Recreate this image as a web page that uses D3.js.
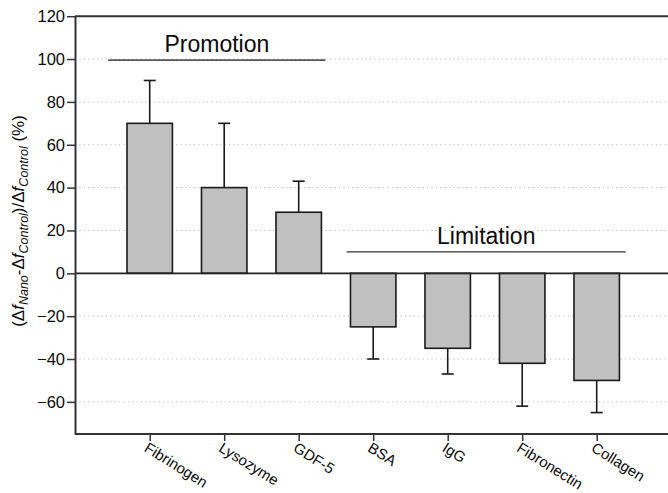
<!DOCTYPE html>
<html>
<head>
<meta charset="utf-8">
<script src="https://cdn.jsdelivr.net/npm/d3@7"></script>
<style>
  html, body { margin: 0; padding: 0; background: #fff; }
  svg { display: block; }
  text { font-family: "Liberation Sans", Arial, Helvetica, sans-serif; fill: #0a0a0a; }
</style>
</head>
<body>
<svg id="chart" width="668" height="493"></svg>
<script>
// Relative frequency change of the nano-coated surface vs. control, per protein
const categories = ["Fibrinogen", "Lysozyme", "GDF-5", "BSA", "IgG", "Fibronectin", "Collagen"];
const values     = [70, 40, 28.5, -25, -35, -42, -50];
const errors     = [20, 30, 14.5, 15, 12, 20, 15];
const yTicks     = [-60, -40, -20, 0, 20, 40, 60, 80, 100, 120];
const groupLabels = ["Promotion", "Limitation"];
const groupFrom   = ["Fibrinogen", "BSA"];
const groupTo     = ["GDF-5", "Collagen"];
const groupLevel  = [99.5, 10];

const svg = d3.select("#chart");
const W = 668;
const left = 75;

const y = d3.scaleLinear().domain([-75, 120]).range([434, 16.2]);
const x = d3.scalePoint().domain(categories).range([149.7, 596.7]);
const step = x.step();
const barW = step * 0.61;

// dotted horizontal grid
svg.append("g")
  .selectAll("line")
  .data(yTicks.filter(t => t !== 0 && t !== 120))
  .join("line")
  .attr("x1", left).attr("x2", W)
  .attr("y1", d => y(d)).attr("y2", d => y(d))
  .attr("stroke", "#b8b8b8")
  .attr("stroke-width", 1)
  .attr("stroke-dasharray", "1.2,3.2");

// top frame line
svg.append("line")
  .attr("x1", left).attr("x2", W)
  .attr("y1", y(120)).attr("y2", y(120))
  .attr("stroke", "#333").attr("stroke-width", 2);

// bottom axis line
svg.append("line")
  .attr("x1", left).attr("x2", W)
  .attr("y1", y(-75)).attr("y2", y(-75))
  .attr("stroke", "#333").attr("stroke-width", 2);

// error bars (one-sided, away from zero)
const eb = svg.append("g").attr("stroke", "#1a1a1a").attr("stroke-width", 1.6);
categories.forEach((c, i) => {
  const v = values[i];
  const end = v >= 0 ? v + errors[i] : v - errors[i];
  eb.append("line")
    .attr("x1", x(c)).attr("x2", x(c))
    .attr("y1", y(v)).attr("y2", y(end));
  eb.append("line")
    .attr("x1", x(c) - 6).attr("x2", x(c) + 6)
    .attr("y1", y(end)).attr("y2", y(end));
});

// bars
svg.append("g")
  .selectAll("rect")
  .data(categories.map((c, i) => ({ c, v: values[i] })))
  .join("rect")
  .attr("x", d => x(d.c) - barW / 2)
  .attr("width", barW)
  .attr("y", d => y(Math.max(0, d.v)))
  .attr("height", d => Math.abs(y(d.v) - y(0)))
  .attr("fill", "#c0c0c0")
  .attr("stroke", "#1a1a1a")
  .attr("stroke-width", 1.6);

// zero line
svg.append("line")
  .attr("x1", left).attr("x2", W)
  .attr("y1", y(0)).attr("y2", y(0))
  .attr("stroke", "#222").attr("stroke-width", 1.8);

// y axis
const yAxis = svg.append("g")
  .attr("transform", `translate(${left},0)`)
  .call(d3.axisLeft(y).tickValues(yTicks).tickSize(8).tickSizeOuter(0).tickPadding(2));
yAxis.select(".domain").attr("stroke", "#333").attr("stroke-width", 2);
yAxis.selectAll(".tick line").attr("stroke", "#333").attr("stroke-width", 1.5);
yAxis.selectAll(".tick text")
  .attr("font-size", 16.5)
  .attr("font-family", "'Liberation Sans', Arial, sans-serif")
  .attr("fill", "#0a0a0a");

// x axis ticks and rotated labels
const xAxis = svg.append("g")
  .attr("transform", `translate(0,${y(-75)})`)
  .call(d3.axisBottom(x).tickSize(7).tickSizeOuter(0));
xAxis.select(".domain").remove();
xAxis.selectAll(".tick line").attr("stroke", "#333").attr("stroke-width", 1.5);
xAxis.selectAll(".tick text")
  .attr("font-size", 15)
  .attr("font-family", "'Liberation Sans', Arial, sans-serif")
  .attr("fill", "#0a0a0a")
  .attr("text-anchor", "start")
  .attr("x", 0).attr("y", 0).attr("dy", "0.75em")
  .attr("transform", "translate(-1,7) rotate(32)");

// group annotations: bracket line spanning the group, label above it
const spanPad = { Promotion: [0.557, 0.36], Limitation: [0.356, 0.39] };
groupLabels.forEach((label, i) => {
  const x1 = x(groupFrom[i]) - step * spanPad[label][0];
  const x2 = x(groupTo[i]) + step * spanPad[label][1];
  svg.append("line")
    .attr("x1", x1).attr("x2", x2)
    .attr("y1", y(groupLevel[i])).attr("y2", y(groupLevel[i]))
    .attr("stroke", label === "Promotion" ? "#555" : "#333")
    .attr("stroke-width", label === "Promotion" ? 1.8 : 1.3);
  svg.append("text")
    .attr("x", (x1 + x2) / 2)
    .attr("y", y(groupLevel[i]) - 8)
    .attr("text-anchor", "middle")
    .attr("font-size", 23)
    .text(label);
});

// y axis title with italic f and subscripts
const title = svg.append("text")
  .attr("transform", "translate(24,221) rotate(-90)")
  .attr("text-anchor", "middle")
  .attr("font-size", 17);
const parts = [
  { t: "(Δ" },
  { t: "f", it: true },
  { t: "Nano", it: true, sub: true },
  { t: "-Δ" },
  { t: "f", it: true },
  { t: "Control", it: true, sub: true },
  { t: ")/Δ" },
  { t: "f", it: true },
  { t: "Control", it: true, sub: true },
  { t: " (%)" }
];
let shifted = false;
parts.forEach(p => {
  const ts = title.append("tspan").text(p.t);
  if (p.it) ts.attr("font-style", "italic");
  if (p.sub) { ts.attr("font-size", 12.5).attr("dy", 4); shifted = true; }
  else if (shifted) { ts.attr("dy", -4); shifted = false; }
});
</script>
</body>
</html>
